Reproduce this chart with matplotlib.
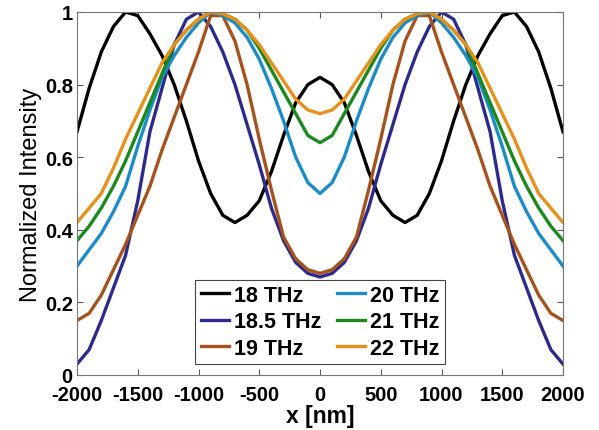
import numpy as np
import matplotlib
matplotlib.use("Agg")
import matplotlib.pyplot as plt

plt.rcParams['font.family'] = ['Liberation Sans', 'DejaVu Sans']
plt.rcParams['axes.unicode_minus'] = False

x_nm = np.arange(-2000, 2001, 100)

# values from x = 0 to 2000 (step 100), curves are symmetric about 0
i18_half = [0.82, 0.80, 0.75, 0.66, 0.56, 0.48, 0.44, 0.42, 0.44, 0.50, 0.59, 0.70,
            0.80, 0.88, 0.94, 0.99, 1.00, 0.96, 0.89, 0.79, 0.67]
i185_half = [0.27, 0.28, 0.31, 0.37, 0.46, 0.58, 0.69, 0.80, 0.89, 0.96, 1.00, 0.98,
             0.91, 0.79, 0.67, 0.48, 0.33, 0.24, 0.15, 0.07, 0.03]
i19_half = [0.28, 0.29, 0.32, 0.38, 0.51, 0.65, 0.80, 0.92, 0.99, 0.99, 0.89, 0.80,
            0.71, 0.62, 0.52, 0.44, 0.36, 0.29, 0.22, 0.17, 0.15]
i20_half = [0.50, 0.53, 0.60, 0.70, 0.79, 0.87, 0.93, 0.97, 0.99, 1.00, 0.97, 0.93,
            0.88, 0.82, 0.73, 0.63, 0.52, 0.45, 0.39, 0.345, 0.30]
i21_half = [0.64, 0.66, 0.72, 0.78, 0.84, 0.90, 0.95, 0.98, 0.995, 1.00, 0.98, 0.95,
            0.91, 0.83, 0.75, 0.67, 0.59, 0.52, 0.46, 0.41, 0.37]
i22_half = [0.72, 0.73, 0.76, 0.81, 0.86, 0.91, 0.95, 0.98, 0.995, 1.00, 0.98, 0.95,
            0.91, 0.86, 0.79, 0.72, 0.65, 0.57, 0.50, 0.46, 0.42]

labels = ['18 THz', '18.5 THz', '19 THz', '20 THz', '21 THz', '22 THz']
colors = ['#000000', '#2e2a8c', '#a5521c', '#1a8cc8', '#1a8a1e', '#e8901a']
halves = [i18_half, i185_half, i19_half, i20_half, i21_half, i22_half]

fig = plt.figure(figsize=(5.99, 4.31), dpi=100)
ax = fig.add_axes([77/599, 1-376/431, 486/599, 363/431])

for h, c, lab in zip(halves, colors, labels):
    y = np.array(h[::-1] + h[1:])
    ax.plot(x_nm, y, color=c, lw=2.4, label=lab)

ax.set_xlim(-2000, 2000)
ax.set_ylim(0, 1)
ax.set_xticks(np.arange(-2000, 2001, 500))
ax.set_yticks([0, 0.2, 0.4, 0.6, 0.8, 1])
ax.set_yticklabels(['0', '0.2', '0.4', '0.6', '0.8', '1'])
ax.tick_params(direction='in', top=True, right=True, length=4, width=0.8,
               color='#555555', labelsize=14.5)
ax.tick_params(axis='x', pad=7)
ax.tick_params(axis='y', pad=3)
for t in ax.get_xticklabels() + ax.get_yticklabels():
    t.set_fontweight('bold')
for s in ax.spines.values():
    s.set_color('#777777')
    s.set_linewidth(0.8)

ax.set_xlabel('x [nm]', fontsize=16.5, fontweight='bold', labelpad=0)
ax.set_ylabel('Normalized Intensity', fontsize=17, labelpad=2)

leg = ax.legend(ncol=2, loc='lower center', bbox_to_anchor=(0.5, 0.03),
                prop={'size': 15.5, 'weight': 'bold'}, fancybox=False,
                edgecolor='#444444', framealpha=1, handlelength=1.3,
                handletextpad=0.25, columnspacing=0.7, labelspacing=0.25,
                borderpad=0.25, borderaxespad=0.0)
leg.get_frame().set_linewidth(0.8)

fig.savefig('out.png', dpi=100)
